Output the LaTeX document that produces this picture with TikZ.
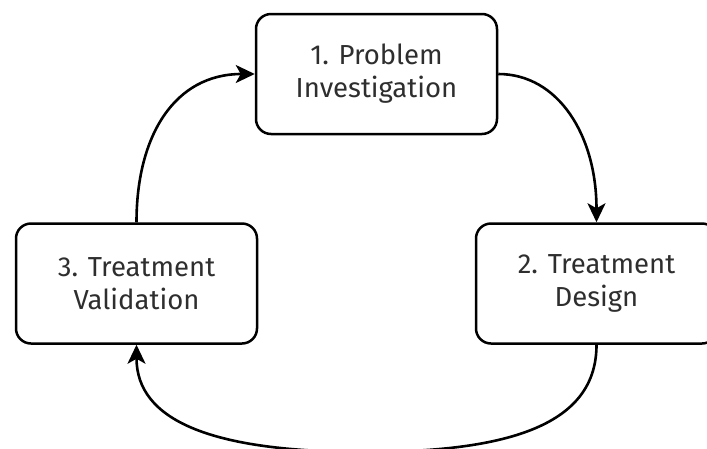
\documentclass[tikz,border=0pt]{standalone}
\usepackage{fontspec}
\setmainfont{Fira Sans}
\usetikzlibrary{arrows.meta}
\definecolor{txt}{HTML}{2E2E2E}
\tikzset{
  stage/.style={draw=black, line width=2.5pt, rounded corners=15pt, fill=white,
    minimum width=241pt, minimum height=120pt, align=center, text=txt,
    font=\fontsize{27.5}{33}\selectfont},
  flow/.style={line width=2.6pt, draw=black,
    -{Stealth[length=19pt,width=18pt,inset=5pt]}}
}
\begin{document}
\begin{tikzpicture}[x=1pt,y=-1pt]
  \useasboundingbox (0,0) rectangle (707,448);
  \clip (0,0) rectangle (707,448);
  \node[stage] (p1) at (376.5,74) {1. Problem\\Investigation};
  \node[stage] (p2) at (596.5,283.5) {2. Treatment\\Design};
  \node[stage] (p3) at (136.5,283.5) {3. Treatment\\Validation};
  \coordinate (low) at (366,452);
  \draw[flow] (p1.east) .. controls (558,74) and (596.5,135) .. (p2.north);
  \draw[flow] (p2.south) .. controls (596.5,420) and (520,452) .. (low)
                         .. controls (210,452) and (136.5,420) .. (p3.south);
  \draw[flow] (p3.north) .. controls (136.5,135) and (175,74) .. (p1.west);
\end{tikzpicture}
\end{document}
